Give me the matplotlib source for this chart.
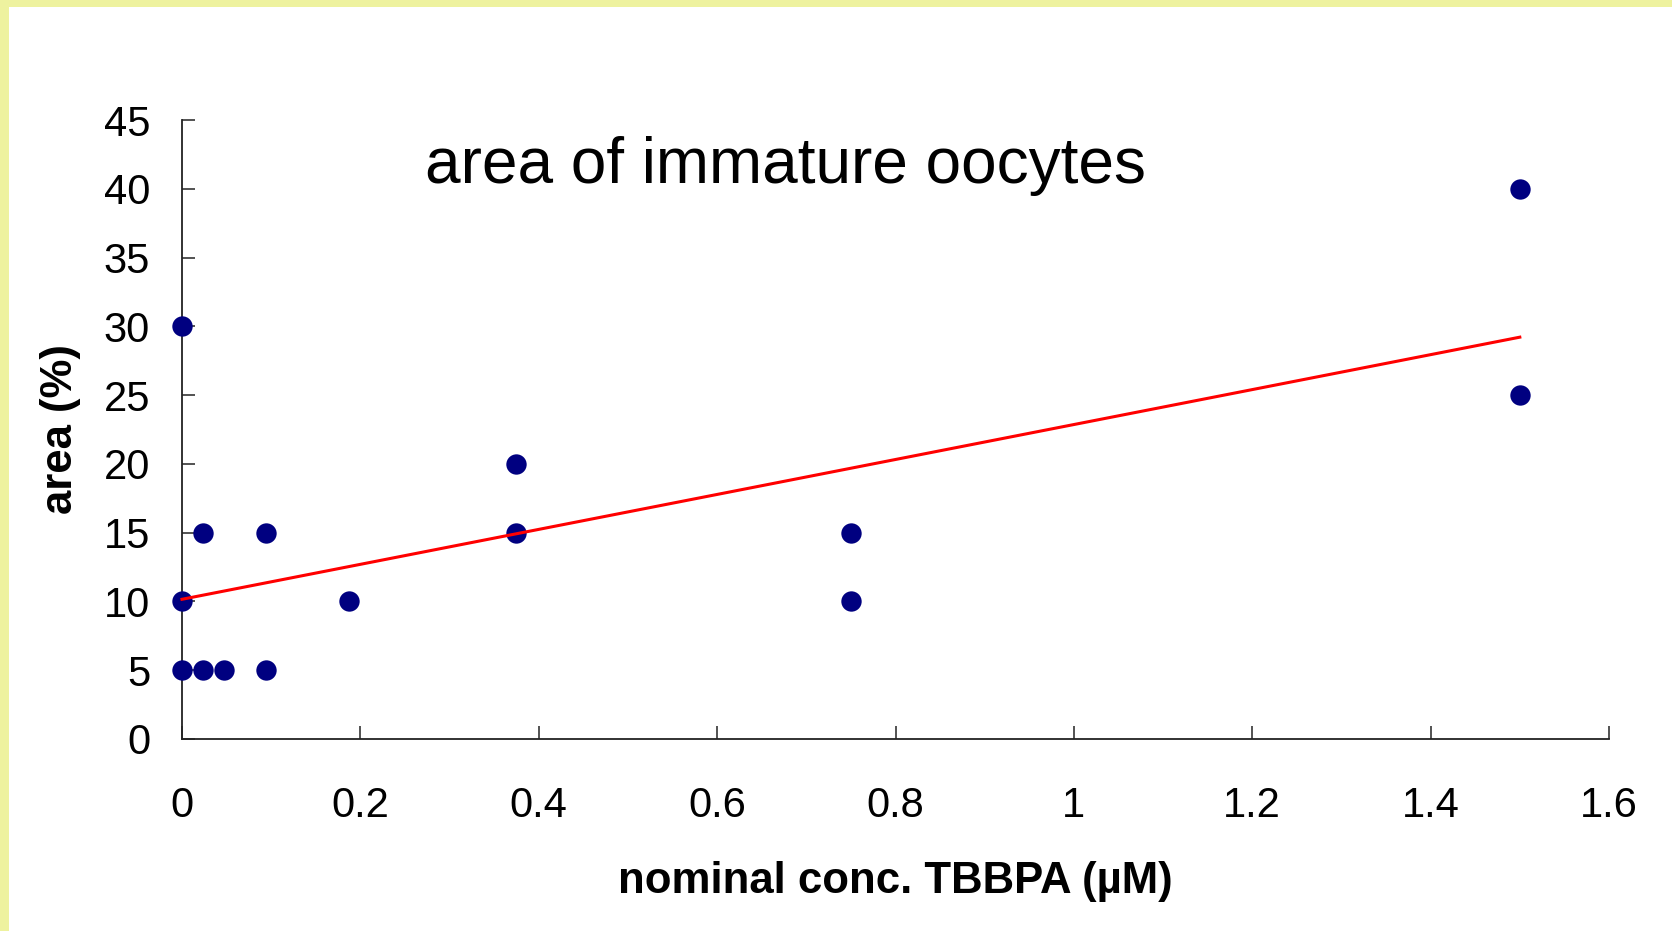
import numpy as np
import matplotlib
matplotlib.use("Agg")
import matplotlib.pyplot as plt
from matplotlib.patches import Rectangle

plt.rcParams['font.family'] = ['Liberation Sans', 'DejaVu Sans']

# Data (nominal conc. TBBPA in µM, area in %)
conc = [0, 0, 0, 0.023, 0.023, 0.047, 0.094, 0.094, 0.1875,
        0.375, 0.375, 0.75, 0.75, 1.5, 1.5]
area = [30, 10, 5, 15, 5, 5, 15, 5, 10,
        20, 15, 15, 10, 40, 25]

x_ticks = [0, 0.2, 0.4, 0.6, 0.8, 1.0, 1.2, 1.4, 1.6]
x_tick_labels = ["0", "0.2", "0.4", "0.6", "0.8", "1", "1.2", "1.4", "1.6"]
y_ticks = [0, 5, 10, 15, 20, 25, 30, 35, 40, 45]

title = "area of immature oocytes"
xlabel = "nominal conc. TBBPA (µM)"
ylabel = "area (%)"

W, H = 1672, 931
fig = plt.figure(figsize=(W / 100, H / 100), dpi=100)
fig.patch.set_facecolor("white")

border = "#EEF29F"
fig.patches.append(Rectangle((0, 0), 9 / W, 1, transform=fig.transFigure,
                             facecolor=border, edgecolor="none", zorder=0))
fig.patches.append(Rectangle((0, 1 - 7 / H), 1, 7 / H, transform=fig.transFigure,
                             facecolor=border, edgecolor="none", zorder=0))

left, right = 182 / W, 1609 / W
bottom, top = 1 - 739 / H, 1 - 120 / H
ax = fig.add_axes([left, bottom, right - left, top - bottom])
ax.set_facecolor("none")

ax.scatter(conc, area, s=215, color="#000080", zorder=3, clip_on=False,
           linewidths=0)

# linear trend line
slope, intercept = np.polyfit(conc, area, 1)
xl = np.array([min(conc), max(conc)])
ax.plot(xl, slope * xl + intercept, color="#FF0000", lw=2.2, zorder=4,
        clip_on=False)

ax.set_xlim(0, 1.6)
ax.set_ylim(0, 45)
ax.set_xticks(x_ticks)
ax.set_xticklabels(x_tick_labels)
ax.set_yticks(y_ticks)

for s in ["top", "right"]:
    ax.spines[s].set_visible(False)
for s in ["left", "bottom"]:
    ax.spines[s].set_linewidth(1.3)
    ax.spines[s].set_color("#222222")

ax.tick_params(axis="both", direction="in", length=9.5, width=1.3,
               color="#444444", labelsize=30)
ax.tick_params(axis="x", pad=34)
ax.tick_params(axis="y", pad=23)

ax.set_xlabel(xlabel, fontsize=31.5, fontweight="bold", labelpad=25)
ax.set_ylabel(ylabel, fontsize=31.5, fontweight="bold", labelpad=16)

fig.text(425 / W, 1 - 183 / H, title, fontsize=46, ha="left",
         va="baseline")

fig.savefig("out.png", dpi=100)
